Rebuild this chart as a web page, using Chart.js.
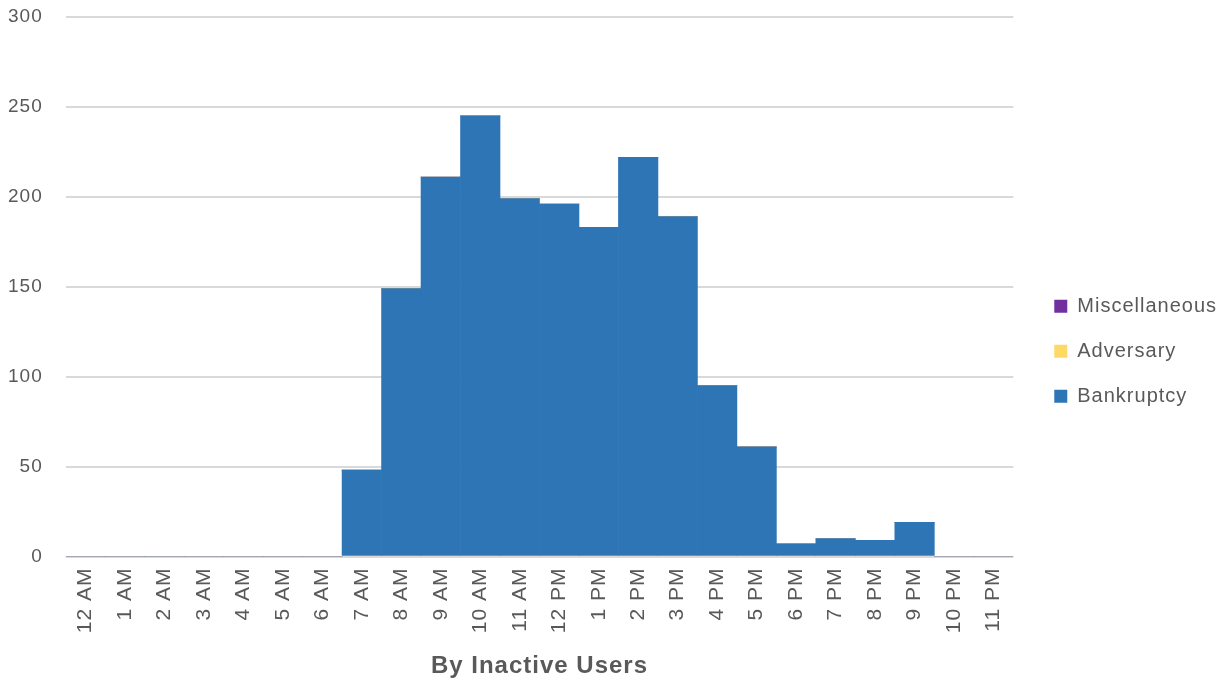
<!DOCTYPE html>
<html>
<head>
<meta charset="utf-8">
<script src="https://cdn.jsdelivr.net/npm/chart.js@4/dist/chart.umd.min.js"></script>
<style>
  html, body { margin: 0; padding: 0; background: #fff; }
  #wrap { width: 1222px; height: 683px; position: relative; }
</style>
</head>
<body>
<div id="wrap"><canvas id="chart"></canvas></div>
<script>
// hour labels
var hours = ['12 AM', '1 AM', '2 AM', '3 AM', '4 AM', '5 AM', '6 AM', '7 AM', '8 AM', '9 AM', '10 AM', '11 AM',
             '12 PM', '1 PM', '2 PM', '3 PM', '4 PM', '5 PM', '6 PM', '7 PM', '8 PM', '9 PM', '10 PM', '11 PM'];

// series values
var bankruptcy = [0, 0, 0, 0, 0, 0, 0, 48, 149, 211, 245, 199, 196, 183, 222, 189, 95, 61, 7, 10, 9, 19, 0, 0];
var adversary = [0, 0, 0, 0, 0, 0, 0, 0, 0, 0, 0, 0, 0, 0, 0, 0, 0, 0, 0, 0, 0, 0, 0, 0];
var miscellaneous = [0, 0, 0, 0, 0, 0, 0, 0, 0, 0, 0, 0, 0, 0, 0, 0, 0, 0, 0, 0, 0, 0, 0, 0];

var textColor = '#595959';
var fontFamily = "'Liberation Sans', Arial, sans-serif";

// the original text is a little spaced out, canvas state gets reset on resize so set it each time
var spacing = {
    id: 'spacing',
    beforeUpdate: function (chart) { chart.ctx.letterSpacing = '1px'; },
    beforeDraw: function (chart) { chart.ctx.letterSpacing = '1px'; }
};

var ctx = document.getElementById('chart').getContext('2d');
var chart = new Chart(ctx, {
    type: 'bar',
    data: {
        labels: hours,
        datasets: [
            { label: 'Bankruptcy', data: bankruptcy, backgroundColor: '#2E75B6' },
            { label: 'Adversary', data: adversary, backgroundColor: '#FFD966' },
            { label: 'Miscellaneous', data: miscellaneous, backgroundColor: '#7030A0' }
        ]
    },
    plugins: [spacing],
    options: {
        responsive: true,
        maintainAspectRatio: false,
        animation: false,
        datasets: {
            bar: { categoryPercentage: 1.0, barPercentage: 1.0, borderWidth: 0 }
        },
        layout: { padding: { top: 17, left: 5, right: -5, bottom: 2 } },
        scales: {
            x: {
                stacked: true,
                grid: { display: false, drawTicks: false },
                border: { display: false },
                ticks: {
                    color: textColor,
                    font: { family: fontFamily, size: 21 },
                    minRotation: 90,
                    maxRotation: 90,
                    autoSkip: false,
                    padding: 11
                },
                title: {
                    display: true,
                    text: 'By Inactive Users',
                    color: textColor,
                    font: { family: fontFamily, size: 24, weight: 'bold' },
                    padding: { top: 8, bottom: 0 }
                }
            },
            y: {
                stacked: true,
                min: 0,
                max: 300,
                ticks: {
                    stepSize: 50,
                    color: textColor,
                    font: { family: fontFamily, size: 19 },
                    padding: 3
                },
                // invisible tick marks give the gap between labels and plot
                grid: { color: '#d9d9d9', lineWidth: 2, drawTicks: true, tickLength: 20, tickColor: 'rgba(0,0,0,0)' },
                border: { display: false }
            },
            // empty spacer between the plot and the legend
            gap: {
                position: 'right',
                display: true,
                grid: { display: false, drawTicks: false },
                border: { display: false },
                ticks: { display: false },
                afterFit: function (scale) { scale.width = 16; }
            }
        },
        plugins: {
            legend: {
                position: 'right',
                reverse: true,
                title: { display: true, text: ' ', font: { size: 2 }, padding: 1 },
                labels: {
                    color: textColor,
                    font: { family: fontFamily, size: 20 },
                    boxWidth: 13,
                    boxHeight: 13,
                    padding: 25
                }
            },
            tooltip: { enabled: false }
        }
    }
});
</script>
</body>
</html>
